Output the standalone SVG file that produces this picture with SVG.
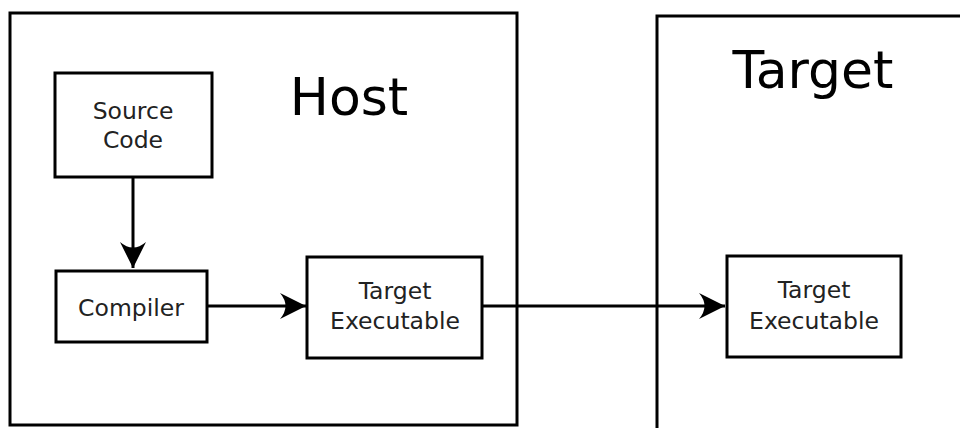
<svg xmlns="http://www.w3.org/2000/svg" width="960" height="428" viewBox="0 0 960 428">
<style>
.box{fill:#fff;stroke:#000;stroke-width:3}
.frame{fill:none;stroke:#000;stroke-width:3}
.lbl{font-family:"DejaVu Sans",sans-serif;font-size:23.5px;fill:#222;text-anchor:middle}
.big{font-family:"DejaVu Sans",sans-serif;font-size:52px;fill:#000;text-anchor:middle}
.conn{fill:none;stroke:#000;stroke-width:3}
</style>
<defs>
<marker id="arr" markerUnits="userSpaceOnUse" viewBox="-28 -14 30 28" refX="0" refY="0" markerWidth="30" markerHeight="28" orient="auto">
<path d="M0,0 L-26,-13 Q-15,0 -26,13 Z" fill="#000"/>
</marker>
</defs>
<rect width="960" height="428" fill="#fff"/>
<g id="host">
<rect class="frame" x="10" y="13" width="507" height="412"/>
<text class="big" x="349" y="115">Host</text>
</g>
<g id="target">
<rect class="frame" x="657" y="16" width="320" height="430"/>
<text class="big" x="813" y="88">Target</text>
</g>
<g id="connectors">
<path class="conn" d="M133,177 V268" marker-end="url(#arr)"/>
<path class="conn" d="M207,306 H306" marker-end="url(#arr)"/>
<path class="conn" d="M482,306 H725" marker-end="url(#arr)"/>
</g>
<g id="source">
<rect class="box" x="55" y="73" width="157" height="104"/>
<text class="lbl" x="133" y="119">Source</text>
<text class="lbl" x="133" y="148">Code</text>
</g>
<g id="compiler">
<rect class="box" x="56" y="271" width="151" height="71"/>
<text class="lbl" x="131" y="316">Compiler</text>
</g>
<g id="host-exec">
<rect class="box" x="307" y="257" width="175" height="101"/>
<text class="lbl" x="395" y="299">Target</text>
<text class="lbl" x="395" y="329">Executable</text>
</g>
<g id="target-exec">
<rect class="box" x="727" y="256" width="174" height="101"/>
<text class="lbl" x="814" y="298">Target</text>
<text class="lbl" x="814" y="329">Executable</text>
</g>
</svg>
